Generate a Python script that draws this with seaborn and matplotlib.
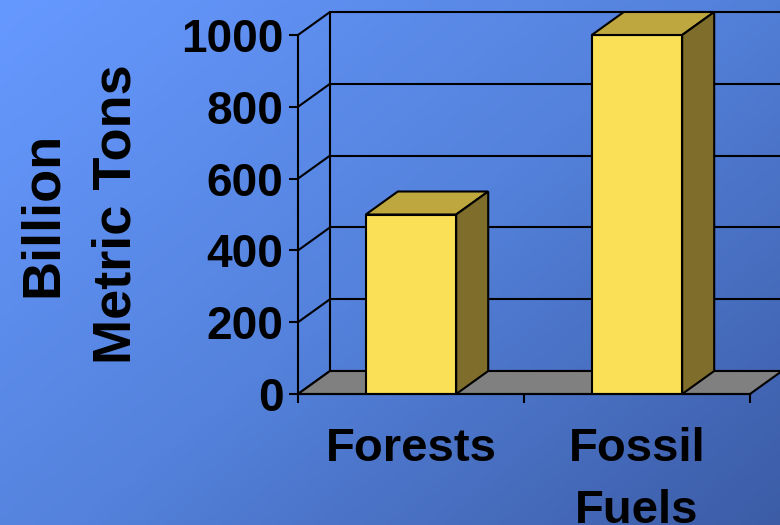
import numpy as np
import pandas as pd
import matplotlib
matplotlib.use("Agg")
import matplotlib.pyplot as plt
from matplotlib.colors import LinearSegmentedColormap
from matplotlib.patches import Polygon
import seaborn as sns

# Carbon stored, billion metric tons
categories = ["Forests", "Fossil\nFuels"]
values = [500, 1000]
y_ticks = [0, 200, 400, 600, 800, 1000]
y_label = "Billion\nMetric Tons"

sns.set_theme(style="white")
plt.rcParams["font.family"] = ["Liberation Sans", "DejaVu Sans"]
plt.rcParams["font.weight"] = "bold"
plt.rcParams["text.color"] = "black"
plt.rcParams["xtick.color"] = "black"
plt.rcParams["ytick.color"] = "black"
plt.rcParams["xtick.labelcolor"] = "black"
plt.rcParams["ytick.labelcolor"] = "black"

W, H = 780, 525
fig = plt.figure(figsize=(W / 100, H / 100), dpi=100)

# diagonal blue gradient backdrop
bg = fig.add_axes([0, 0, 1, 1], zorder=-10)
xx, yy = np.meshgrid(np.linspace(0, 1, 400), np.linspace(0, 1, 300))
t = np.clip(0.55 * xx + 0.45 * yy, 0, 1)
cmap = LinearSegmentedColormap.from_list("bg", ["#6699FF", "#5482DC", "#3C5CA6"])
bg.imshow(t, cmap=cmap, aspect="auto", extent=[0, 1, 0, 1], origin="upper")
bg.axis("off")

# plot area: front frame spans x 298..750 px, y 394 (0) .. 35 (1000) px
px_per_cat = 226.0
px_per_unit = (394 - 35) / 1000.0
left_px, bottom_px = 298, 394
ax = fig.add_axes([left_px / W, (H - bottom_px) / H, (W - left_px) / W, bottom_px / H])
ax.patch.set_alpha(0)
x0 = -0.5
ax.set_xlim(x0, x0 + (W - left_px) / px_per_cat)
ax.set_ylim(0, bottom_px / px_per_unit)

# depth offset of the 3-D box
dx = 32 / px_per_cat
dy = 23 / px_per_unit
lw = 1.5
yellow, top_c, side_c, floor_c = "#FAE057", "#BEA73F", "#7F6E2B", "#808080"
xmax = x0 + (W - left_px) / px_per_cat + 0.1

# back wall gridlines and side wall
for v in y_ticks:
    ax.plot([x0 + dx, xmax], [v + dy, v + dy], color="black", lw=lw, zorder=1, clip_on=False)
    ax.plot([x0, x0 + dx], [v, v + dy], color="black", lw=lw, zorder=1, clip_on=False)
ax.plot([x0 + dx, x0 + dx], [dy, y_ticks[-1] + dy], color="black", lw=lw, zorder=1)

# floor
floor = Polygon([(x0, 0), (1.5, 0), (1.5 + dx, dy), (xmax, dy), (xmax, dy), (x0 + dx, dy)],
                closed=True, facecolor=floor_c, edgecolor="black", lw=lw, zorder=2,
                clip_on=False, joinstyle="miter")
ax.add_patch(floor)

df = pd.DataFrame({"cat": categories, "val": values})
sns.barplot(data=df, x="cat", y="val", width=0.4, color=yellow, saturation=1,
            edgecolor="black", linewidth=lw, ax=ax, zorder=3)

for p in ax.patches:
    if p is floor:
        continue
    bx, bw, bh = p.get_x(), p.get_width(), p.get_height()
    top = Polygon([(bx, bh), (bx + dx, bh + dy), (bx + bw + dx, bh + dy), (bx + bw, bh)],
                  closed=True, facecolor=top_c, edgecolor="black", lw=lw, zorder=3,
                  joinstyle="miter")
    side = Polygon([(bx + bw, 0), (bx + bw, bh), (bx + bw + dx, bh + dy), (bx + bw + dx, dy)],
                   closed=True, facecolor=side_c, edgecolor="black", lw=lw, zorder=3,
                   joinstyle="miter")
    ax.add_patch(top)
    ax.add_patch(side)

ax.set_xlim(x0, x0 + (W - left_px) / px_per_cat)
ax.set_ylim(0, bottom_px / px_per_unit)

# front axes
for s in ["top", "right"]:
    ax.spines[s].set_visible(False)
for s in ["left", "bottom"]:
    ax.spines[s].set_visible(True)
    ax.spines[s].set_color("black")
    ax.spines[s].set_linewidth(lw)
    ax.spines[s].set_zorder(4)
ax.spines["left"].set_bounds(0, 1000)
ax.spines["bottom"].set_bounds(-0.5, 1.5)

ax.set_yticks(y_ticks)
ax.set_yticklabels([str(v) for v in y_ticks], fontsize=33, fontweight="bold", color="black")
ax.tick_params(axis="y", which="major", direction="out", length=6.5, width=lw,
               color="black", pad=4, left=True)
ax.set_xticks([0, 1])
ax.set_xticklabels(categories, fontsize=34, fontweight="bold", linespacing=1.52, color="black")
ax.set_xticks([-0.5, 0.5, 1.5], minor=True)
ax.tick_params(axis="x", which="major", length=0, pad=24, bottom=False)
ax.tick_params(axis="x", which="minor", direction="out", length=6.5, width=lw,
               color="black", bottom=True)
ax.set_xlabel("")
ax.set_ylabel("")
ax.grid(False)

fig.text(80 / W, 1 - 214 / H, y_label, rotation=90, ha="center", va="center",
         fontsize=39, fontweight="bold", linespacing=1.6, multialignment="center",
         color="black")

fig.savefig("out.png", dpi=100)
